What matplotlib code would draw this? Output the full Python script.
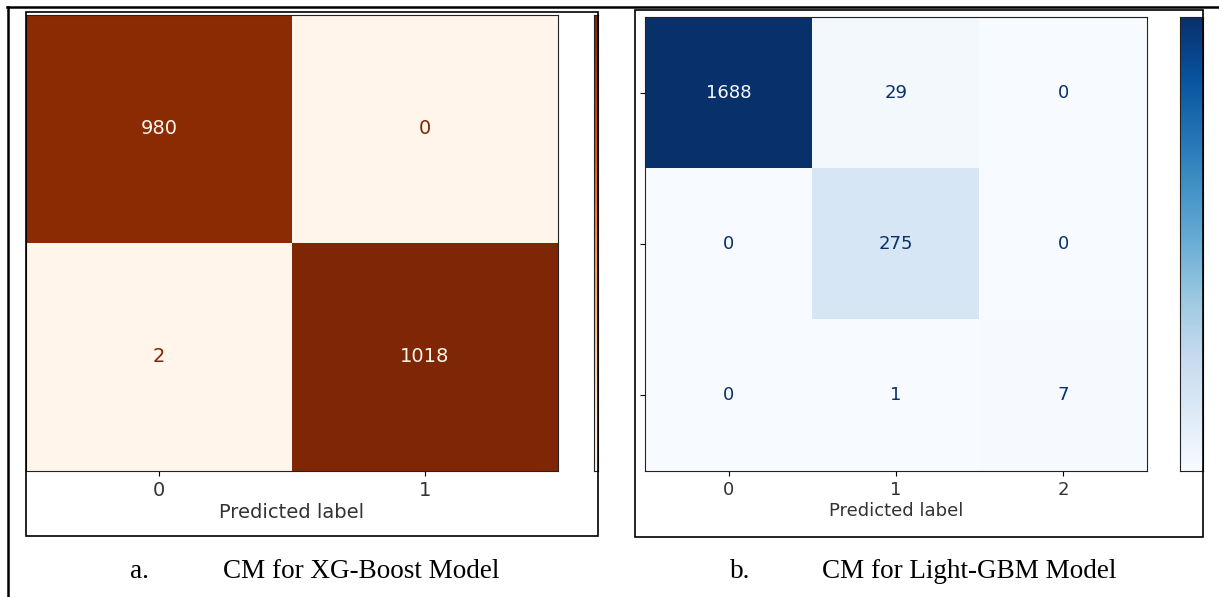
import matplotlib.pyplot as plt
import numpy as np
from matplotlib.lines import Line2D
from matplotlib.patches import Rectangle

# confusion matrices from the two boosted models
xgb_cm = [[980, 0], [2, 1018]]
xgb_labels = ["0", "1"]
lgbm_cm = [[1688, 29, 0], [0, 275, 0], [0, 1, 7]]
lgbm_labels = ["0", "1", "2"]

captions = [("a.", "CM for XG-Boost Model"), ("b.", "CM for Light-GBM Model")]

W, H = 1219, 597
fig = plt.figure(figsize=(W / 100, H / 100), dpi=100)


def rect(x0, y0, x1, y1):
    # pixel box (top-left origin) -> figure fraction
    return [x0 / W, 1 - y1 / H, (x1 - x0) / W, (y1 - y0) / H]


def draw_cm(bounds, cm, labels, cmap_name, fs, show_yticks):
    cm = np.array(cm)
    cmap = plt.get_cmap(cmap_name)
    ax = fig.add_axes(rect(*bounds))
    ax.imshow(cm, cmap=cmap, vmin=0, vmax=cm.max(), aspect="auto",
              interpolation="nearest")
    thresh = cm.max() / 2.0
    for i in range(cm.shape[0]):
        for j in range(cm.shape[1]):
            color = cmap(0.0) if cm[i, j] > thresh else cmap(1.0)
            ax.text(j, i, str(cm[i, j]), ha="center", va="center",
                    color=color, fontsize=fs)
    ticks = np.arange(len(labels))
    ax.set_xticks(ticks)
    ax.set_xticklabels(labels, fontsize=fs, color="#333333")
    ax.set_xlabel("Predicted label", fontsize=fs, color="#333333", labelpad=2)
    if show_yticks:
        ax.set_yticks(ticks)
        ax.set_yticklabels([""] * len(labels))
    else:
        ax.set_yticks([])
    for s in ax.spines.values():
        s.set_color("#222222")
    return ax


def draw_cbar(bounds, cmap_name):
    cax = fig.add_axes(rect(*bounds))
    grad = np.linspace(1, 0, 256)[:, None]
    cax.imshow(grad, cmap=cmap_name, aspect="auto")
    cax.set_xticks([])
    cax.set_yticks([])
    for s in cax.spines.values():
        s.set_color("#222222")
    return cax


# image frames inside the table cells
fig.add_artist(Rectangle((26 / W, 1 - 536 / H), (598 - 26) / W, (536 - 12) / H,
                         transform=fig.transFigure, fill=False,
                         edgecolor="black", linewidth=1.2))
fig.add_artist(Rectangle((635 / W, 1 - 537 / H), (1203 - 635) / W, (537 - 10) / H,
                         transform=fig.transFigure, fill=False,
                         edgecolor="black", linewidth=1.2))

draw_cm((26, 15, 558, 471), xgb_cm, xgb_labels, "Oranges", 14, False)
draw_cbar((594, 15, 598, 471), "Oranges")

draw_cm((645, 17, 1147, 471), lgbm_cm, lgbm_labels, "Blues", 13, True)
draw_cbar((1180, 17, 1203, 471), "Blues")

# table borders
fig.add_artist(Line2D([7 / W, 1], [1 - 7 / H, 1 - 7 / H],
                      transform=fig.transFigure, color="black", linewidth=1.8))
fig.add_artist(Line2D([8 / W, 8 / W], [0, 1 - 7 / H],
                      transform=fig.transFigure, color="black", linewidth=1.8))

# captions
cap_font = dict(family="Liberation Serif", fontsize=19.5, color="black",
                va="baseline")
fig.text(130 / W, 1 - 578 / H, captions[0][0], ha="left", **cap_font)
fig.text(223 / W, 1 - 578 / H, captions[0][1], ha="left", **cap_font)
fig.text(730 / W, 1 - 578 / H, captions[1][0], ha="left", **cap_font)
fig.text(822 / W, 1 - 578 / H, captions[1][1], ha="left", **cap_font)

fig.savefig("out.png", dpi=100)
